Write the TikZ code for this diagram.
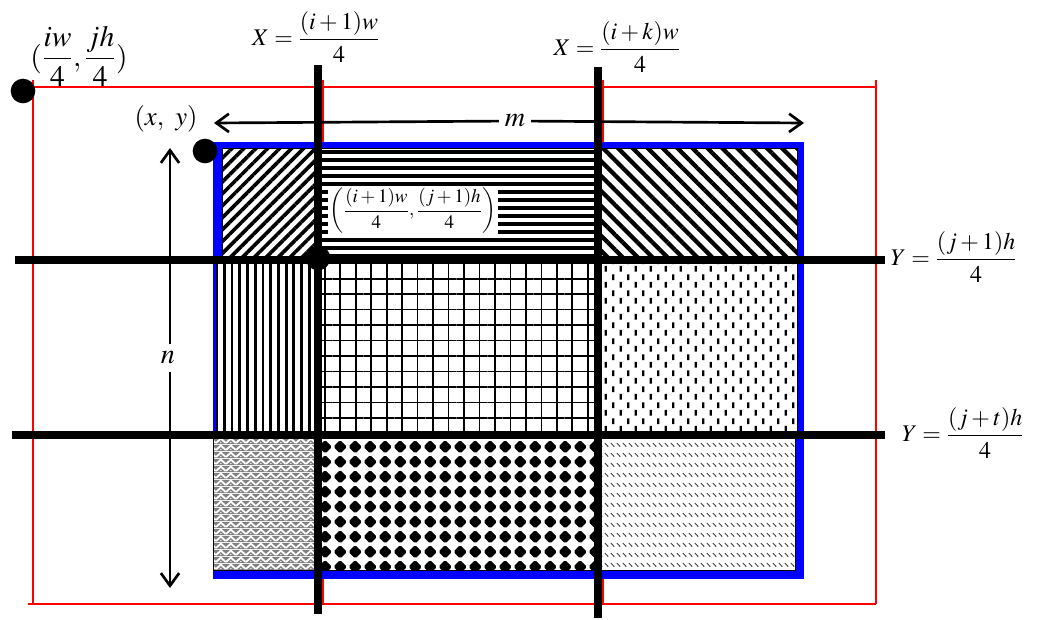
\documentclass[tikz,border=0pt]{standalone}
\usepackage{amsmath,mathptmx}
\usetikzlibrary{arrows.meta,patterns.meta}

\tikzdeclarepattern{
  name=shortdashes, type=uncolored,
  bottom left={(0pt,0pt)}, top right={(11pt,11pt)}, tile size={(11pt,11pt)},
  code={
    \tikzset{x=1pt,y=1pt}
    \draw[line width=1.5pt] (2.75,1) -- (2.75,5.3);
    \draw[line width=1.5pt] (8.25,6.5) -- (8.25,10.8);
  }
}
\tikzdeclarepattern{
  name=weave, type=colored,
  bottom left={(0pt,0pt)}, top right={(7pt,5pt)}, tile size={(7pt,5pt)},
  code={
    \tikzset{x=1pt,y=1pt}
    \fill[black!50] (0,0) rectangle (7,5);
    \draw[white, line width=1.4pt] (0,0.8) -- (3.5,4.3) -- (7,0.8);
    \fill[white] (3.5,1.2) circle (0.6);
  }
}
\tikzdeclarepattern{
  name=diamonds, type=uncolored,
  bottom left={(0pt,0pt)}, top right={(10.8pt,10.8pt)}, tile size={(10.8pt,10.8pt)},
  code={
    \tikzset{x=1pt,y=1pt}
    \fill[rounded corners=1.2pt] (5.4,0.3) -- (10.5,5.4) -- (5.4,10.5) -- (0.3,5.4) -- cycle;
  }
}
\tikzdeclarepattern{
  name=slashes, type=uncolored,
  bottom left={(0pt,0pt)}, top right={(4.3pt,7pt)}, tile size={(4.3pt,7pt)},
  code={
    \tikzset{x=1pt,y=1pt}
    \draw[line width=0.7pt] (0.7,5) -- (3.5,2.4);
  }
}

\begin{document}
\begin{tikzpicture}[x=0.025cm, y=-0.025cm,
    redline/.style={red, line width=1.7pt},
    cutline/.style={black, line width=5.7pt},
    cell/.style={draw=black, line width=0.7pt, preaction={fill=white}},
    dot/.style={circle, fill=black, inner sep=0pt, minimum size=17.5pt},
    dimarrow/.style={line width=1.9pt, -{Straight Barb[length=9pt,width=13pt]}},
    lbl/.style={font=\fontsize{17}{20}\selectfont, inner sep=1pt}]
  \useasboundingbox (0,0) rectangle (1045,619);

  % image frame
  \draw[redline] (323,80) -- (323,604);
  \draw[redline] (603,80) -- (603,604);
  \draw[redline] (33,80) -- (33,604);
  \draw[redline] (876,80) -- (876,604);
  \draw[redline] (33,87) -- (876,87);
  \draw[redline] (28,604) -- (876,604);

  % block
  \fill[blue] (213,142) rectangle (804,579);
  \path[cell, pattern={Lines[angle=45,distance=6pt,line width=2.6pt]}] (222,148) rectangle (318,260);
  \path[cell] (318,148) rectangle (598,260);
  \foreach \y in {152,160,...,256}
    \draw[line width=2.2pt] (318,\y) -- (598,\y);
  \path[cell, pattern={Lines[angle=-45,distance=7.5pt,line width=3pt]}] (598,148) rectangle (797,260);
  \path[cell, pattern={Lines[angle=90,distance=5.5pt,line width=2pt]}] (216,260) rectangle (318,435);
  \path[cell, pattern={Hatch[angle=0,distance=11pt,line width=1.2pt]}] (318,260) rectangle (598,435);
  \path[cell, pattern=shortdashes] (598,260) rectangle (797,435);
  \path[cell, pattern=weave] (213,435) rectangle (318,570);
  \path[cell, pattern=diamonds] (318,435) rectangle (598,570);
  \path[cell, pattern=slashes, pattern color=black!75] (598,435) rectangle (795,570);

  % grid lines
  \draw[cutline] (318,65) -- (318,614);
  \draw[cutline] (598,67) -- (598,618);
  \draw[cutline] (15,260) -- (885,260);
  \draw[cutline] (12,435) -- (885,435);

  \node[dot] (corner) at (23,91) {};
  \node[dot] (origin) at (205,151) {};
  \node[dot] (cross) at (318,258) {};

  \node[lbl, font=\fontsize{21}{24}\selectfont] (cornerlbl) at (79,56) {$(\dfrac{iw}{4},\dfrac{jh}{4})$};
  \node[lbl, font=\fontsize{19}{22}\selectfont] (originlbl) at (166,119) {$(x,\ y)$};
  \node[lbl] (xone) at (316,37) {$X=\dfrac{(i+1)w}{4}$};
  \node[lbl] (xk) at (617,47) {$X=\dfrac{(i+k)w}{4}$};
  \node[lbl] (yone) at (954,257) {$Y=\dfrac{(j+1)h}{4}$};
  \node[lbl] (yt) at (963,433) {$Y=\dfrac{(j+t)h}{4}$};
  \node[lbl, font=\fontsize{13.5}{16}\selectfont, fill=white] (crosslbl) at (413,211)
    {$\left(\dfrac{(i+1)w}{4},\dfrac{(j+1)h}{4}\right)$};

  % block size
  \coordinate (mleft) at (214,123);
  \coordinate (mright) at (804,123);
  \coordinate (ntop) at (170,148);
  \coordinate (nbot) at (170,588);
  \node[lbl, font=\fontsize{20}{22}\selectfont, inner sep=4pt] (m) at (515,121) {$m$};
  \node[lbl, font=\fontsize{20}{22}\selectfont, inner sep=5pt] (n) at (168,358) {$n$};
  \draw[dimarrow] (m) -- (mleft);
  \draw[dimarrow] (m) -- (mright);
  \draw[dimarrow] (n.north -| ntop) -- (ntop);
  \draw[dimarrow] (n.south -| nbot) -- (nbot);
\end{tikzpicture}
\end{document}
